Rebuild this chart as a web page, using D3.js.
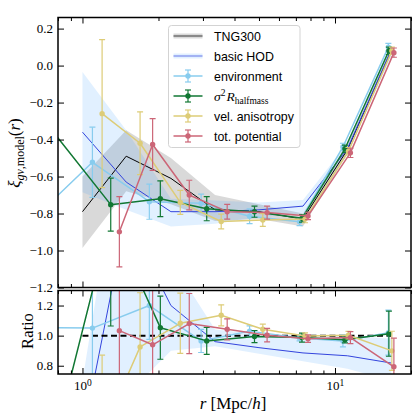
<!DOCTYPE html>
<html><head><meta charset="utf-8">
<script src="https://cdn.jsdelivr.net/npm/d3@7"></script>
<style>body{margin:0;background:#fff}</style>
</head><body><svg id="c" width="415" height="415"></svg>
<script>
// ---- data ----
const rBins = [1.0, 1.49, 2.24, 3.35, 5.0, 7.47, 11.2, 16.7];
const tngXi = [-0.79, -0.49, -0.61, -0.78, -0.79, -0.83, -0.455, 0.08];
const tngLo = [-0.987, -0.68, -0.75, -0.84, -0.83, -0.87, -0.48, 0.06];
const tngHi = [-0.60, -0.35, -0.50, -0.70, -0.75, -0.80, -0.43, 0.10];
const hodXi = [-0.36, -0.63, -0.79, -0.79, -0.78, -0.76, -0.45, 0.085];
const hodLo = [-0.685, -0.78, -0.87, -0.855, -0.82, -0.80, -0.48, 0.05];
const hodHi = [-0.035, -0.35, -0.72, -0.73, -0.74, -0.727, -0.42, 0.12];
const hodRatio = [0.32, 1.79, 1.20, 0.96, 0.92, 0.885, 0.866, 0.818];
const hodRatioLo = [-0.2, 0.6, 0.9, 0.93, 0.88, 0.83, 0.78, 0.70];
const hodRatioHi = [0.70, 2.5, 1.5, 1.04, 1.01, 1.0, 1.0, 0.98];

const envR = [0.747, 1.095, 1.84, 2.95, 4.59, 7.24, 10.75, 16.27];
const envXi = [-0.74, -0.523, -0.736, -0.745, -0.815, -0.845, -0.44, 0.10];
const envErr = [0.1, 0.19, 0.095, 0.05, 0.04, 0.02, 0.02, 0.02];
const envRatio = [1.053, 1.05, 1.20, 0.965, 1.03, 0.985, 0.965, 1.02];
const envRatioErr = [0.3, 0.4, 0.225, 0.077, 0.035, 0.02, 0.04, 0.15];

const sigR = [0.747, 1.294, 2.034, 3.105, 4.80, 7.40, 10.95, 16.35];
const sigXi = [-0.34, -0.752, -0.72, -0.774, -0.79, -0.826, -0.45, 0.08];
const sigErr = [0.1, 0.143, 0.097, 0.065, 0.03, 0.02, 0.02, 0.02];
const sigRatio = [0.19, 1.78, 1.053, 0.965, 0.994, 0.987, 0.972, 1.013];
const sigRatioErr = [0.3, 0.716, 0.21, 0.09, 0.04, 0.03, 0.02, 0.15];

const velR = [1.196, 1.691, 2.44, 3.543, 5.178, 7.61, 11.31, 16.8];
const velXi = [-0.26, -0.42, -0.74, -0.843, -0.835, -0.83, -0.463, 0.08];
const velErr = [0.40, 0.17, 0.065, 0.04, 0.035, 0.02, 0.02, 0.02];
const velRatio = [0.35, 0.925, 1.082, 1.135, 1.042, 0.998, 1.003, 0.899];
const velRatioErr = [0.52, 0.36, 0.2, 0.07, 0.035, 0.02, 0.025, 0.13];

const potR = [1.40, 1.896, 2.648, 3.742, 5.385, 7.82, 11.51, 17.11];
const potXi = [-0.899, -0.427, -0.70, -0.79, -0.795, -0.813, -0.472, 0.07];
const potErr = [0.19, 0.14, 0.08, 0.04, 0.035, 0.02, 0.025, 0.025];
const potRatio = [1.033, 0.939, 1.08, 1.042, 1.003, 0.98, 0.987, 0.793];
const potRatioErr = [0.5, 0.5, 0.2, 0.07, 0.045, 0.025, 0.04, 0.19];

const yTicksTop = [-1.2, -1.0, -0.8, -0.6, -0.4, -0.2, 0.0, 0.2];
const yTicksRatio = [0.8, 1.0, 1.2];
const xMajor = [1, 10];
const xMinor = [0.8, 0.9, 2, 3, 4, 5, 6, 7, 8, 9, 20];
const legendLabels = ["TNG300", "basic HOD", "environment", "sigma", "vel. anisotropy", "tot. potential"];

// ---- colours ----
const cEnv = "#88CCEE", cSig = "#117733", cVel = "#DDCC77", cPot = "#CC6677", cHod = "#3344dd";

const svg = d3.select("#c");
const L = 58, R = 411, T = 17.5, B1 = 287.5, T2 = 290.5, B2 = 374;
const x = d3.scaleLog().domain([0.8, 20]).range([L, R]);
const yT = d3.scaleLinear().domain([-1.2, 0.26]).range([B1, T]);
const yR = d3.scaleLinear().domain([0.745, 1.3]).range([B2, T2]);

const defs = svg.append("defs");
defs.append("clipPath").attr("id", "clipT").append("rect").attr("x", L).attr("y", T).attr("width", R - L).attr("height", B1 - T);
defs.append("clipPath").attr("id", "clipR").append("rect").attr("x", L).attr("y", T2).attr("width", R - L).attr("height", B2 - T2);

const gT = svg.append("g").attr("clip-path", "url(#clipT)");
const gR = svg.append("g").attr("clip-path", "url(#clipR)");

function band(g, ys, rs, lo, hi, fill, op) {
  const a = d3.area().x((d, i) => x(rs[i])).y0((d, i) => ys(lo[i])).y1((d, i) => ys(hi[i]));
  g.append("path").attr("d", a(rs)).attr("fill", fill).attr("fill-opacity", op).attr("stroke", "none");
}
function line(g, ys, rs, vals, color, w) {
  const l = d3.line().x((d, i) => x(rs[i])).y((d, i) => ys(vals[i]));
  g.append("path").attr("d", l(rs)).attr("fill", "none").attr("stroke", color).attr("stroke-width", w).attr("stroke-linejoin", "round");
}
function series(g, ys, rs, vals, errs, color) {
  line(g, ys, rs, vals, color, 1.5);
  const eb = g.append("g").attr("stroke", color).attr("stroke-width", 1.2);
  rs.forEach((r, i) => {
    const cx = x(r), y0 = ys(vals[i] - errs[i]), y1 = ys(vals[i] + errs[i]);
    eb.append("line").attr("x1", cx).attr("x2", cx).attr("y1", y0).attr("y2", y1);
    eb.append("line").attr("x1", cx - 3).attr("x2", cx + 3).attr("y1", y0).attr("y2", y0);
    eb.append("line").attr("x1", cx - 3).attr("x2", cx + 3).attr("y1", y1).attr("y2", y1);
  });
  g.append("g").selectAll("circle").data(rs).join("circle")
    .attr("cx", d => x(d)).attr("cy", (d, i) => ys(vals[i])).attr("r", 2.7).attr("fill", color);
}

// top panel
band(gT, yT, rBins, tngLo, tngHi, "#000", 0.15);
band(gT, yT, rBins, hodLo, hodHi, "#3399ff", 0.15);
line(gT, yT, rBins, tngXi, "#000", 1);
line(gT, yT, rBins, hodXi, cHod, 1);
series(gT, yT, envR, envXi, envErr, cEnv);
series(gT, yT, sigR, sigXi, sigErr, cSig);
series(gT, yT, velR, velXi, velErr, cVel);
series(gT, yT, potR, potXi, potErr, cPot);

// ratio panel
band(gR, yR, rBins, hodRatioLo, hodRatioHi, "#3399ff", 0.15);
line(gR, yR, rBins, hodRatio, cHod, 1);
gR.append("line").attr("x1", x(rBins[0])).attr("x2", x(rBins[rBins.length - 1]))
  .attr("y1", yR(1)).attr("y2", yR(1)).attr("stroke", "#000").attr("stroke-width", 2).attr("stroke-dasharray", "6,3.5");
series(gR, yR, envR, envRatio, envRatioErr, cEnv);
series(gR, yR, sigR, sigRatio, sigRatioErr, cSig);
series(gR, yR, velR, velRatio, velRatioErr, cVel);
series(gR, yR, potR, potRatio, potRatioErr, cPot);

// ---- axes ----
const serif = "Liberation Serif, DejaVu Serif, serif";
function styleAxis(g) {
  g.select(".domain").remove();
  g.selectAll("line").attr("stroke", "#000").attr("stroke-width", 1);
  g.selectAll("text").attr("font-family", serif).attr("font-size", 13).attr("fill", "#000");
}
function xAxes(top, bottom, labels) {
  const a1 = svg.append("g").attr("transform", `translate(0,${bottom})`)
    .call(d3.axisBottom(x).tickValues(xMajor).tickSizeInner(-6).tickSizeOuter(0).tickPadding(7)
      .tickFormat(labels ? (d => "10") : (d => "")));
  styleAxis(a1);
  if (labels) {
    a1.selectAll(".tick text").each(function (d) {
      const t = d3.select(this); t.text(null);
      t.append("tspan").text("10");
      t.append("tspan").attr("dy", "-0.45em").attr("font-size", 9.5).text(Math.round(Math.log10(d)));
    });
  }
  styleAxis(svg.append("g").attr("transform", `translate(0,${bottom})`)
    .call(d3.axisBottom(x).tickValues(xMinor).tickSizeInner(-3.5).tickSizeOuter(0).tickFormat(() => "")));
  styleAxis(svg.append("g").attr("transform", `translate(0,${top})`)
    .call(d3.axisTop(x).tickValues(xMajor).tickSizeInner(-6).tickSizeOuter(0).tickFormat(() => "")));
  styleAxis(svg.append("g").attr("transform", `translate(0,${top})`)
    .call(d3.axisTop(x).tickValues(xMinor).tickSizeInner(-3.5).tickSizeOuter(0).tickFormat(() => "")));
}
function yAxes(ys, ticks) {
  styleAxis(svg.append("g").attr("transform", `translate(${L},0)`)
    .call(d3.axisLeft(ys).tickValues(ticks).tickSizeInner(-6).tickSizeOuter(0).tickPadding(5).tickFormat(d3.format(".1f"))));
  styleAxis(svg.append("g").attr("transform", `translate(${R},0)`)
    .call(d3.axisRight(ys).tickValues(ticks).tickSizeInner(-6).tickSizeOuter(0).tickFormat(() => "")));
}
xAxes(T, B1, false);
xAxes(T2, B2, true);
yAxes(yT, yTicksTop);
yAxes(yR, yTicksRatio);

// spines
[[T, B1], [T2, B2]].forEach(([t, b]) => {
  svg.append("rect").attr("x", L).attr("y", t).attr("width", R - L).attr("height", b - t)
    .attr("fill", "none").attr("stroke", "#000").attr("stroke-width", 1.5);
});

// axis labels
const yl = svg.append("text").attr("transform", "translate(20,153) rotate(-90)")
  .attr("text-anchor", "middle").attr("font-family", serif).attr("font-size", 17);
yl.append("tspan").attr("font-style", "italic").text("ξ");
yl.append("tspan").attr("font-size", 12).attr("dy", 4).attr("font-style", "italic").text("gv");
yl.append("tspan").attr("font-size", 12).text(",model");
yl.append("tspan").attr("dy", -4).text("(");
yl.append("tspan").attr("font-style", "italic").text("r");
yl.append("tspan").text(")");

svg.append("text").attr("transform", "translate(33,331) rotate(-90)").attr("text-anchor", "middle")
  .attr("font-family", serif).attr("font-size", 16.5).text("Ratio");

const xl = svg.append("text").attr("x", 233).attr("y", 408.5).attr("text-anchor", "middle")
  .attr("font-family", serif).attr("font-size", 17);
xl.append("tspan").attr("font-style", "italic").text("r");
xl.append("tspan").text(" [Mpc/");
xl.append("tspan").attr("font-style", "italic").text("h");
xl.append("tspan").text("]");

// ---- legend ----
const lg = svg.append("g");
lg.append("rect").attr("x", 168.5).attr("y", 25.5).attr("width", 131.5).attr("height", 122).attr("rx", 3)
  .attr("fill", "#fff").attr("fill-opacity", 0.8).attr("stroke", "#d3d3d3").attr("stroke-width", 1);
const hx0 = 173.5, hx1 = 202.5, hxc = 188, tx = 214;
const sans = "Liberation Sans, Arial, sans-serif";
legendLabels.forEach((lab, i) => {
  const cy = 36 + 20 * i;
  if (i === 0) {
    lg.append("rect").attr("x", hx0).attr("y", cy - 2.5).attr("width", hx1 - hx0).attr("height", 5).attr("fill", "#000").attr("fill-opacity", 0.15);
    lg.append("line").attr("x1", hx0).attr("x2", hx1).attr("y1", cy).attr("y2", cy).attr("stroke", "#555").attr("stroke-width", 1.2);
  } else if (i === 1) {
    lg.append("rect").attr("x", hx0).attr("y", cy - 2.5).attr("width", hx1 - hx0).attr("height", 5).attr("fill", "#3399ff").attr("fill-opacity", 0.15);
    lg.append("line").attr("x1", hx0).attr("x2", hx1).attr("y1", cy).attr("y2", cy).attr("stroke", cHod).attr("stroke-width", 1.2).attr("stroke-opacity", 0.6);
  } else {
    const col = [cEnv, cSig, cVel, cPot][i - 2];
    lg.append("line").attr("x1", hx0).attr("x2", hx1).attr("y1", cy).attr("y2", cy).attr("stroke", col).attr("stroke-width", 1.5);
    lg.append("line").attr("x1", hxc).attr("x2", hxc).attr("y1", cy - 6).attr("y2", cy + 6).attr("stroke", col).attr("stroke-width", 1.2);
    [cy - 6, cy + 6].forEach(yy => lg.append("line").attr("x1", hxc - 3).attr("x2", hxc + 3).attr("y1", yy).attr("y2", yy).attr("stroke", col).attr("stroke-width", 1.2));
    lg.append("circle").attr("cx", hxc).attr("cy", cy).attr("r", 2.7).attr("fill", col);
  }
  if (lab === "sigma") {
    const t = lg.append("text").attr("x", tx).attr("y", cy + 4.5).attr("font-family", serif).attr("font-size", 13.5);
    t.append("tspan").attr("font-style", "italic").text("σ");
    t.append("tspan").attr("font-size", 9.5).attr("dy", -5).text("2");
    t.append("tspan").attr("font-style", "italic").attr("dy", 5).attr("dx", 1).text("R");
    t.append("tspan").attr("font-size", 9.5).attr("dy", 3).text("halfmass");
  } else {
    lg.append("text").attr("x", tx).attr("y", cy + 4.5).attr("font-family", sans).attr("font-size", 12.4).text(lab);
  }
});
</script></body></html>
